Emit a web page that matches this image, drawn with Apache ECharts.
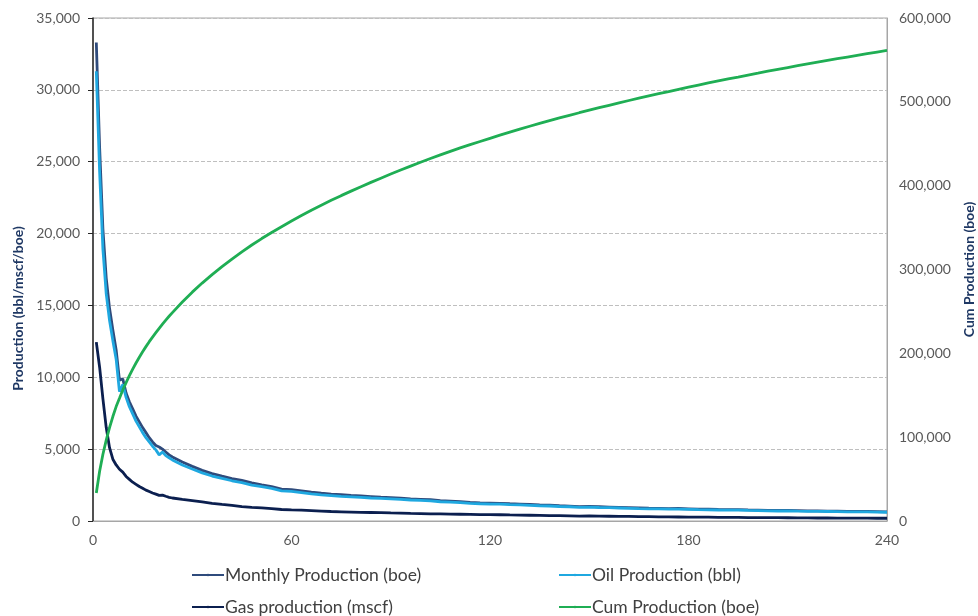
<!DOCTYPE html>
<html>
<head>
<meta charset="utf-8">
<title>Production</title>
<script src="https://cdn.jsdelivr.net/npm/echarts@6/dist/echarts.min.js"></script>
<style>
  html, body { margin: 0; padding: 0; background: #fff; }
  #main { width: 978px; height: 616px; }
</style>
</head>
<body>
<div id="main"></div>
<script>
// months (monthly to 24, then every 3 months)
var months = [1, 2, 3, 4, 5, 6, 7, 8, 9, 10, 11, 12, 13, 14, 15, 16, 17, 18, 19, 20, 21, 22, 23, 24,
  27, 30, 33, 36, 39, 42, 45, 48, 51, 54, 57, 60, 63, 66, 69, 72, 75, 78, 81, 84, 87, 90, 93, 96, 99,
  102, 105, 108, 111, 114, 117, 120, 123, 126, 129, 132, 135, 138, 141, 144, 147, 150, 153, 156, 159,
  162, 165, 168, 171, 174, 177, 180, 183, 186, 189, 192, 195, 198, 201, 204, 207, 210, 213, 216, 219,
  222, 225, 228, 231, 234, 237, 240];

var monthlyBoe = [33300, 26000, 20300, 16900, 14800, 13300, 11900, 9800, 9900, 8900, 8300, 7800, 7300, 6900, 6500, 6150, 5800, 5500, 5250, 5150, 5000, 4800, 4600, 4450,
  4100, 3800, 3520, 3300, 3120, 2950, 2820, 2650, 2520, 2400, 2220, 2180, 2090, 2000, 1930, 1870, 1830, 1780, 1740, 1700, 1660, 1630, 1590, 1540, 1510,
  1480, 1420, 1390, 1350, 1300, 1260, 1250, 1230, 1200, 1180, 1150, 1120, 1100, 1060, 1040, 1000, 1010, 990, 970, 950,
  930, 910, 890, 880, 860, 870, 850, 830, 820, 800, 790, 790, 770, 760, 740, 730, 740, 720, 700, 700,
  690, 680, 670, 660, 660, 650, 640];

var oilBbl = [31300, 24300, 18900, 15800, 13950, 12550, 11250, 9000, 9500, 8600, 7950, 7450, 6950, 6550, 6150, 5800, 5500, 5200, 4950, 4600, 4800, 4550, 4400, 4250,
  3900, 3620, 3350, 3130, 2960, 2800, 2670, 2500, 2390, 2270, 2100, 2060, 1980, 1890, 1820, 1770, 1720, 1680, 1640, 1600, 1570, 1540, 1500, 1460, 1430,
  1400, 1340, 1320, 1280, 1230, 1200, 1180, 1170, 1140, 1120, 1090, 1060, 1045, 1010, 990, 950, 960, 940, 925, 905,
  885, 865, 850, 840, 820, 830, 810, 790, 780, 765, 755, 755, 735, 725, 705, 695, 705, 685, 670, 670,
  660, 650, 640, 630, 630, 620, 610];

var gasMscf = [12450, 10700, 8500, 6500, 5100, 4300, 3900, 3600, 3400, 3100, 2900, 2700, 2550, 2400, 2280, 2150, 2050, 1950, 1870, 1780, 1800, 1720, 1650, 1600,
  1500, 1420, 1330, 1230, 1150, 1080, 1000, 950, 910, 860, 800, 770, 750, 720, 690, 660, 640, 620, 600, 590, 580, 560, 550, 530, 520,
  500, 490, 480, 470, 460, 450, 445, 435, 420, 410, 400, 390, 380, 370, 360, 340, 350, 340, 330, 320,
  315, 305, 300, 290, 285, 280, 275, 270, 265, 255, 250, 250, 240, 235, 230, 230, 225, 220, 215, 210,
  210, 205, 200, 200, 195, 190, 190];

var cumBoe = [33300, 59300, 79600, 96500, 111300, 124600, 136500, 146300, 156200, 165100, 173400, 181200, 188500, 195400, 201900, 208000, 213900, 219400, 224600, 229800, 234800, 239600, 244200, 248600,
  261300, 273000, 283800, 293900, 303400, 312500, 321100, 329200, 336900, 344200, 351000, 357800, 364300, 370700, 376700, 382500, 388100, 393500, 398800, 403900, 408900, 413900, 418700, 423300, 427900,
  432400, 436700, 440900, 445000, 448900, 452700, 456500, 460200, 463800, 467400, 470900, 474300, 477600, 480800, 483900, 487000, 490000, 493000, 495900, 498800,
  501600, 504400, 507100, 509700, 512300, 514900, 517500, 520000, 522500, 524900, 527300, 529600, 532000, 534200, 536500, 538700, 540900, 543100, 545200, 547300,
  549400, 551400, 553400, 555400, 557400, 559400, 561300];

var xTicks = [0, 60, 120, 180, 240];

function pairs(vals) {
  var out = [];
  for (var i = 0; i < months.length; i++) {
    out.push([months[i], vals[i]]);
  }
  return out;
}

function fmt(v) {
  return Number(v).toLocaleString('en-US');
}

// one legend per entry, laid out as two rows of two
function legendItem(name, left, top) {
  return {
    left: left, top: top,
    itemWidth: 32, itemHeight: 3,
    textStyle: { color: '#404040', fontSize: 17.5, fontFamily: 'Lato', padding: [0, 0, 0, -4] },
    data: [name]
  };
}

var myChart = echarts.init(document.getElementById('main'));

var option = {
  animation: false,
  grid: {
    left: 93, right: 91, top: 18, bottom: 95,
    outerBoundsMode: 'none',
    containLabel: false,
    show: true, borderColor: '#a6a6a6', borderWidth: 1
  },
  legend: [
    legendItem('Monthly Production (boe)', 186, 561),
    legendItem('Oil Production (bbl)', 553, 561),
    legendItem('Gas production (mscf)', 186, 593),
    legendItem('Cum Production (boe)', 553, 593)
  ],
  xAxis: {
    type: 'value',
    min: 0, max: 240, interval: 60,
    axisLine: { show: true, lineStyle: { color: '#a6a6a6', width: 1 } },
    axisTick: { show: false },
    splitLine: { show: false },
    axisLabel: {
      color: '#595959', fontSize: 14, fontFamily: 'Lato', margin: 12,
      formatter: function (v) { return xTicks.indexOf(v) >= 0 ? String(v) : ''; }
    }
  },
  yAxis: [{
    type: 'value',
    min: 0, max: 35000, interval: 5000,
    name: 'Production (bbl/mscf/boe)',
    nameLocation: 'middle', nameGap: 64,
    nameTextStyle: { color: '#1f3864', fontSize: 14, fontWeight: 'bold', fontFamily: 'Lato', padding: [0, 78, 0, 0] },
    axisLine: { show: true, lineStyle: { color: '#262626', width: 1.5 } },
    axisTick: { show: true, length: 5, lineStyle: { color: '#262626' } },
    splitLine: { show: true, lineStyle: { color: '#bfbfbf', type: 'dashed' } },
    axisLabel: { color: '#595959', fontSize: 14, fontFamily: 'Lato', margin: 13, formatter: fmt }
  }, {
    type: 'value',
    min: 0, max: 600000, interval: 100000,
    name: 'Cum Production (boe)',
    nameLocation: 'middle', nameGap: 75,
    nameRotate: 90,
    nameTextStyle: { color: '#1f3864', fontSize: 14, fontWeight: 'bold', fontFamily: 'Lato' },
    axisLine: { show: true, lineStyle: { color: '#a6a6a6', width: 1 } },
    axisTick: { show: false },
    splitLine: { show: false },
    axisLabel: { color: '#595959', fontSize: 14, fontFamily: 'Lato', margin: 12, formatter: fmt }
  }],
  series: [{
    name: 'Monthly Production (boe)',
    type: 'line', yAxisIndex: 0, symbol: 'none',
    lineStyle: { width: 2.8, color: '#2f4b7c' },
    itemStyle: { color: '#2f4b7c' },
    data: pairs(monthlyBoe)
  }, {
    name: 'Oil Production (bbl)',
    type: 'line', yAxisIndex: 0, symbol: 'none',
    lineStyle: { width: 2.8, color: '#1fa8e0' },
    itemStyle: { color: '#1fa8e0' },
    data: pairs(oilBbl)
  }, {
    name: 'Gas production (mscf)',
    type: 'line', yAxisIndex: 0, symbol: 'none',
    lineStyle: { width: 2.8, color: '#0b1f4f' },
    itemStyle: { color: '#0b1f4f' },
    data: pairs(gasMscf)
  }, {
    name: 'Cum Production (boe)',
    type: 'line', yAxisIndex: 1, symbol: 'none',
    lineStyle: { width: 2.8, color: '#1fae54' },
    itemStyle: { color: '#1fae54' },
    data: pairs(cumBoe)
  }]
};

myChart.setOption(option);
</script>
</body>
</html>
